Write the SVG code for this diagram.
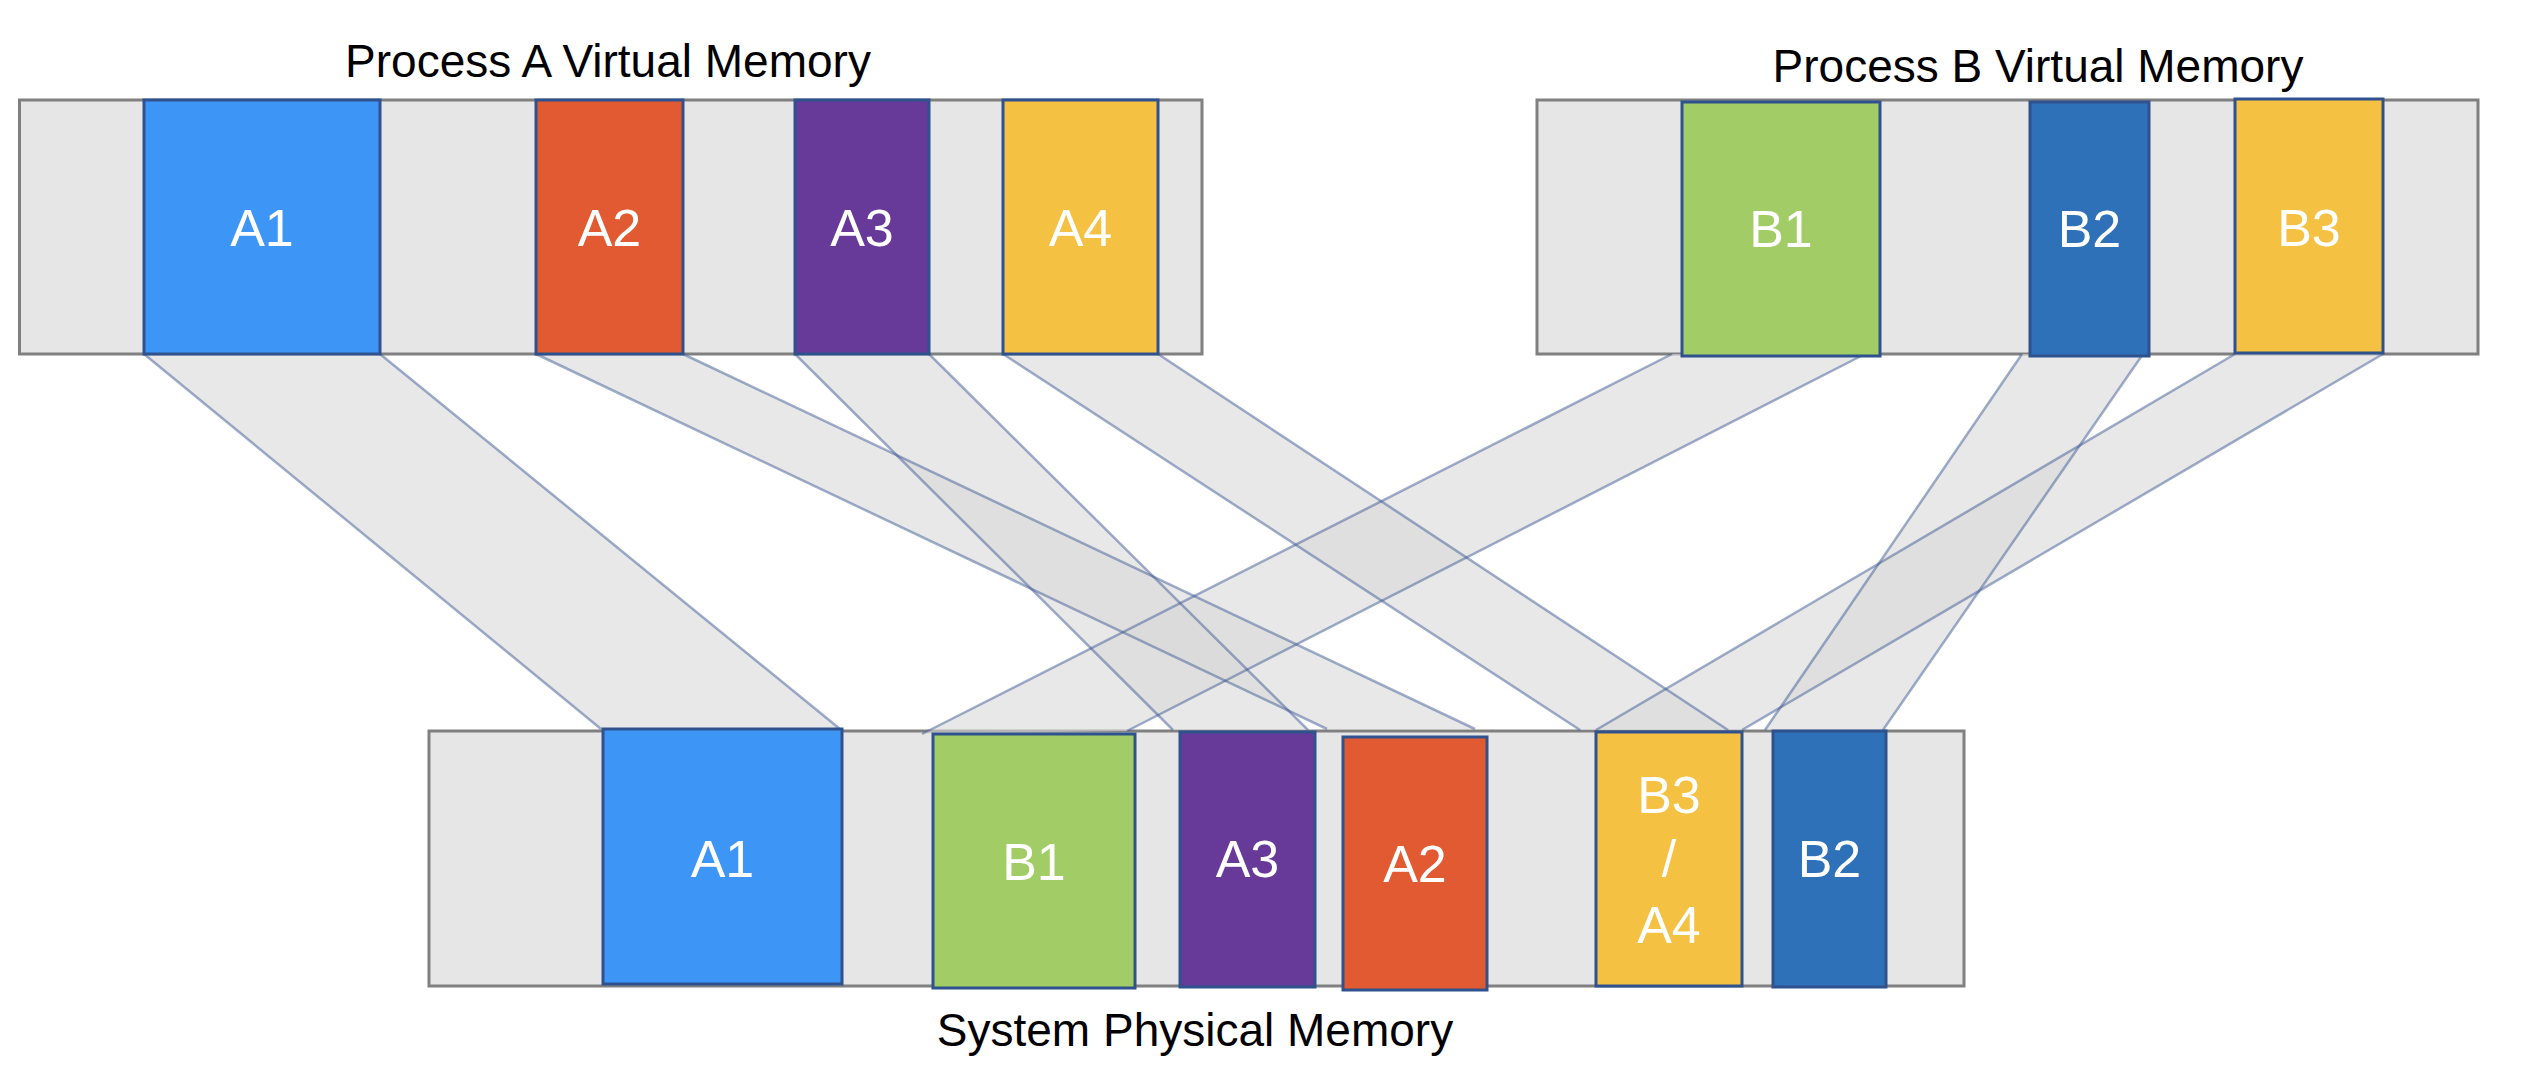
<svg xmlns="http://www.w3.org/2000/svg" width="2540" height="1086" viewBox="0 0 2540 1086">
<style>
.title{font-family:"Liberation Sans",Arial,sans-serif;font-size:46px;fill:#000;text-anchor:middle}
.lbl{font-family:"Liberation Sans",Arial,sans-serif;font-size:52px;fill:#fff;text-anchor:middle}
.bar{fill:#e6e6e6;stroke:#808080;stroke-width:3}
.blk{stroke:#2f528f;stroke-width:3}
.band{fill:#d9d9d9;fill-opacity:0.6;stroke:none}
.edge{stroke:#3f5a96;stroke-opacity:0.5;stroke-width:2.5;fill:none}
</style>
<rect width="2540" height="1086" fill="#fff"/>
<g id="bar-a"><rect class="bar" x="19.5" y="100" width="1182.5" height="254"/></g>
<g id="bar-b"><rect class="bar" x="1537" y="100" width="941" height="254"/></g>
<g id="bar-phys"><rect class="bar" x="429" y="731" width="1535" height="255"/></g>
<g id="connectors">
<polygon class="band" points="144,354 380,354 840,729 601,729"/>
<polygon class="band" points="536,354 683,354 1475,729 1327,729"/>
<polygon class="band" points="795,354 929,354 1308,730 1173,730"/>
<polygon class="band" points="1003,354 1158,354 1728,730 1580,730"/>
<polygon class="band" points="1672,354 1865,354 1127,731 922,734"/>
<polygon class="band" points="2022,354 2143,354 1883,730 1765,730"/>
<polygon class="band" points="2235,354 2383,354 1742,730 1596,730"/>
<line class="edge" x1="144" y1="354" x2="601" y2="729"/>
<line class="edge" x1="380" y1="354" x2="840" y2="729"/>
<line class="edge" x1="536" y1="354" x2="1327" y2="729"/>
<line class="edge" x1="683" y1="354" x2="1475" y2="729"/>
<line class="edge" x1="795" y1="354" x2="1173" y2="730"/>
<line class="edge" x1="929" y1="354" x2="1308" y2="730"/>
<line class="edge" x1="1003" y1="354" x2="1580" y2="730"/>
<line class="edge" x1="1158" y1="354" x2="1728" y2="730"/>
<line class="edge" x1="1672" y1="354" x2="922" y2="734"/>
<line class="edge" x1="1865" y1="354" x2="1127" y2="731"/>
<line class="edge" x1="2022" y1="354" x2="1765" y2="730"/>
<line class="edge" x1="2143" y1="354" x2="1883" y2="730"/>
<line class="edge" x1="2235" y1="354" x2="1596" y2="730"/>
<line class="edge" x1="2383" y1="354" x2="1742" y2="730"/>
</g>
<g id="va-A1"><rect class="blk" x="144" y="100" width="236" height="254" fill="#3d96f5"/><text class="lbl" x="262" y="246">A1</text></g>
<g id="va-A2"><rect class="blk" x="536" y="100" width="147" height="254" fill="#e25a31"/><text class="lbl" x="609.5" y="246">A2</text></g>
<g id="va-A3"><rect class="blk" x="795" y="100" width="134" height="254" fill="#673998"/><text class="lbl" x="862" y="246">A3</text></g>
<g id="va-A4"><rect class="blk" x="1003" y="100" width="155" height="254" fill="#f5c143"/><text class="lbl" x="1080.5" y="246">A4</text></g>
<g id="vb-B1"><rect class="blk" x="1682" y="102" width="198" height="254" fill="#a2cc65"/><text class="lbl" x="1781" y="247">B1</text></g>
<g id="vb-B2"><rect class="blk" x="2030" y="102" width="119" height="254" fill="#2e71b8"/><text class="lbl" x="2089.5" y="247">B2</text></g>
<g id="vb-B3"><rect class="blk" x="2235" y="99" width="148" height="254" fill="#f5c143"/><text class="lbl" x="2309" y="246">B3</text></g>
<g id="p-A1"><rect class="blk" x="603" y="729" width="239" height="255" fill="#3d96f5"/><text class="lbl" x="722.5" y="877">A1</text></g>
<g id="p-B1"><rect class="blk" x="933" y="734" width="202" height="254" fill="#a2cc65"/><text class="lbl" x="1034" y="880">B1</text></g>
<g id="p-A3"><rect class="blk" x="1180" y="732" width="135" height="255" fill="#673998"/><text class="lbl" x="1247.5" y="877">A3</text></g>
<g id="p-A2"><rect class="blk" x="1343" y="737" width="144" height="253" fill="#e25a31"/><text class="lbl" x="1415" y="882">A2</text></g>
<g id="p-B3A4"><rect class="blk" x="1596" y="732" width="146" height="254" fill="#f5c143"/><text class="lbl" x="1669" y="813">B3</text><text class="lbl" x="1669" y="877">/</text><text class="lbl" x="1669" y="943">A4</text></g>
<g id="p-B2"><rect class="blk" x="1773" y="731" width="113" height="256" fill="#2e71b8"/><text class="lbl" x="1829.5" y="877">B2</text></g>
<g id="titles">
<text class="title" x="608" y="77">Process A Virtual Memory</text>
<text class="title" x="2038" y="82">Process B Virtual Memory</text>
<text class="title" x="1195" y="1046">System Physical Memory</text>
</g>
</svg>
